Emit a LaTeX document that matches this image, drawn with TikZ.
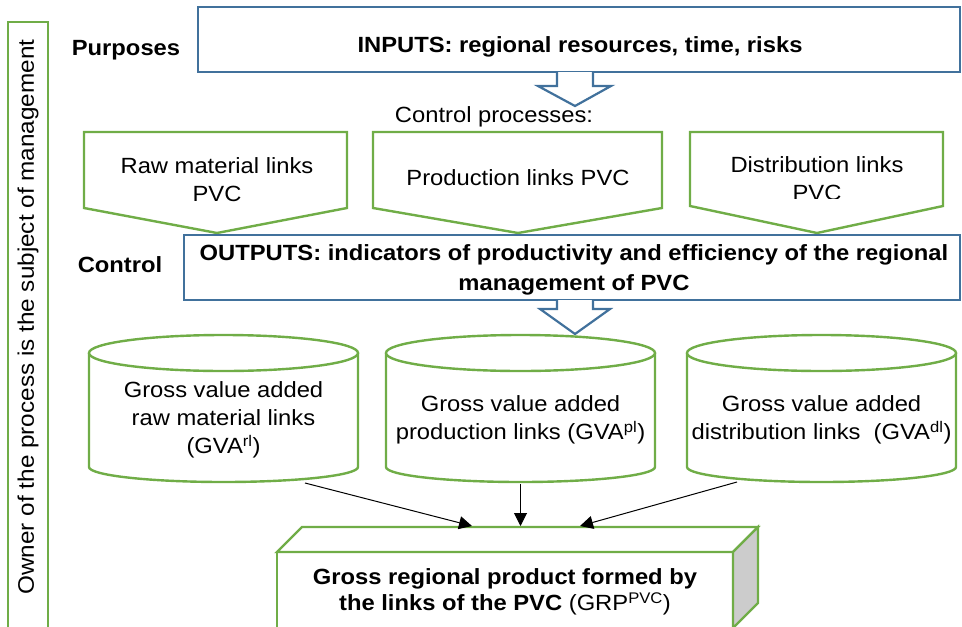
\documentclass[tikz,border=0pt]{standalone}
\usepackage{fontspec}
\setmainfont{Liberation Sans}[FakeStretch=1.08]
\usetikzlibrary{arrows.meta}
\definecolor{grn}{HTML}{70AD47}
\definecolor{blu}{HTML}{41719C}
\tikzset{
  txt/.style={font=\fontsize{22}{28}\selectfont, inner sep=0pt, align=center},
  gline/.style={draw=grn, line width=2.4pt, fill=white, line join=miter},
  bline/.style={draw=blu, line width=2.2pt, fill=white, line join=miter},
  flow/.style={draw=black, line width=1pt, -{Triangle[length=13pt,width=13pt]}},
}
\begin{document}
\begin{tikzpicture}[x=1pt,y=-1pt]
\useasboundingbox (0,0) rectangle (962,627);

% owner column on the left
\draw[gline] (8,22) rectangle (48,640);
\node[txt, rotate=90, font=\fontsize{22.5}{28}\selectfont] (owner) at (28,317)
  {Owner of the process is the subject of management};

% side labels
\node[txt, anchor=base, font=\bfseries\fontsize{22}{28}\selectfont] (purposes) at (126,55) {Purposes};
\node[txt, anchor=base, font=\bfseries\fontsize{22}{28}\selectfont] (control) at (120,272) {Control};

% inputs
\draw[bline] (198,7) rectangle (960,72);
\node[txt, anchor=base, font=\bfseries\fontsize{22}{28}\selectfont] (inputs) at (580,52)
  {INPUTS: regional resources, time, risks};
\draw[bline] (557,72) -- (557,86) -- (538,86) -- (575,106) -- (611,86) -- (593,86) -- (593,72);

\node[txt, anchor=base] (ctrlproc) at (494,122) {Control processes:};

% control processes
\draw[gline] (84,132) -- (347,132) -- (347,208) -- (217,233) -- (84,208) -- cycle;
\node[txt] (rawlinks) at (217,180) {Raw material links\\PVC};
\draw[gline] (373,132) -- (662,132) -- (662,208) -- (518,233) -- (373,208) -- cycle;
\node[txt, anchor=base] (prodlinks) at (518,185) {Production links PVC};
\draw[gline] (690,132) -- (943,132) -- (943,206) -- (817,233) -- (690,206) -- cycle;
\begin{scope}
  \clip (690,132) rectangle (943,198);
  \node[txt] (distlinks) at (817,179) {Distribution links\\PVC};
\end{scope}

% outputs
\draw[bline] (184,235) rectangle (960,300);
\node[txt, font=\bfseries\fontsize{22}{30}\selectfont] (outputs) at (574,270)
  {OUTPUTS: indicators of productivity and efficiency of the regional\\management of PVC};
\draw[bline] (557,300) -- (557,309) -- (540,309) -- (575,334) -- (610,309) -- (593,309) -- (593,300);

% gross value added stores
\foreach \cx/\rx in {223.5/134.5, 520.5/134.5, 821.5/134.5}{
  \draw[gline] (\cx-\rx,353) -- (\cx-\rx,467)
     arc[start angle=180, end angle=360, x radius=\rx pt, y radius=15pt]
     -- (\cx+\rx,353);
  \draw[gline] (\cx,353) ellipse [x radius=\rx pt, y radius=18pt];
}
\node[txt] (gvarl) at (223.5,420) {Gross value added\\raw material links\\(GVA\textsuperscript{rl})};
\node[txt] (gvapl) at (520.5,420) {Gross value added\\production links (GVA\textsuperscript{pl})};
\node[txt] (gvadl) at (821.5,420) {Gross value added\\distribution links\ \ (GVA\textsuperscript{dl})};

% gross regional product block
\draw[gline] (277,552) rectangle (733,640);
\draw[gline] (277,552) -- (302,527) -- (758,527) -- (733,552) -- cycle;
\draw[gline, fill=black!20] (733,552) -- (758,527) -- (758,603) -- (733,628) -- cycle;
\node[txt, font=\fontsize{22}{26}\selectfont] (grp) at (505,592)
  {\bfseries Gross regional product formed by\\\bfseries the links of the PVC \mdseries(GRP\textsuperscript{PVC})};

% flows into the regional product
\coordinate (s1) at (305,483);
\coordinate (s2) at (520.5,484);
\coordinate (s3) at (737,482);
\coordinate (t1) at (472,526);
\coordinate (t2) at (520.5,526);
\coordinate (t3) at (580,526);
\draw[flow] (s1) -- (t1);
\draw[flow] (s2) -- (t2);
\draw[flow] (s3) -- (t3);
\end{tikzpicture}
\end{document}
